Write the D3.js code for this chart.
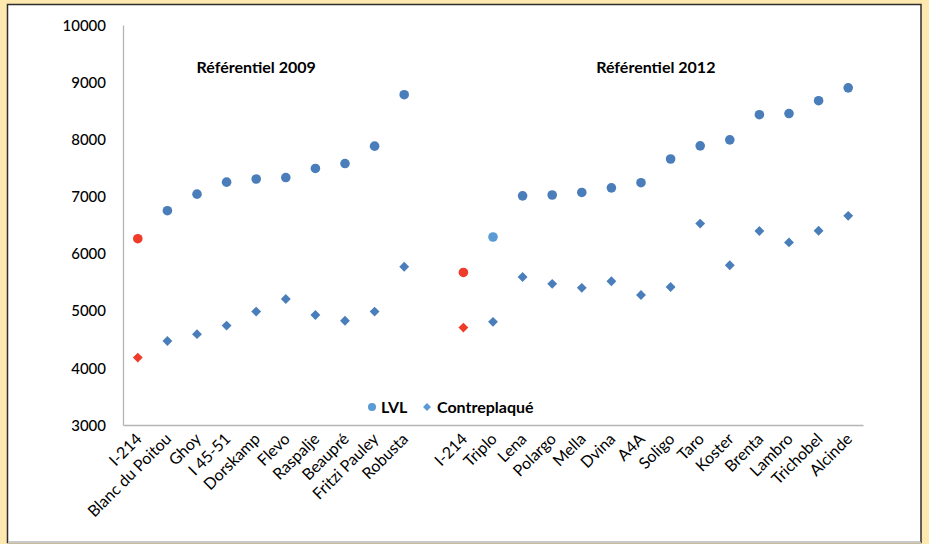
<!DOCTYPE html>
<html>
<head>
<meta charset="utf-8">
<script src="https://cdn.jsdelivr.net/npm/d3@7"></script>
<style>
  html, body { margin: 0; padding: 0; background: #fde8b0; }
  svg { display: block; }
  text { font-family: Lato, "Open Sans", sans-serif; fill: #000; }
</style>
</head>
<body>
<svg id="chart" width="929" height="544"></svg>
<script>
// Cultivars, in plotting order (a blank slot separates the two référentiels)
const cultivars2009 = ["I-214", "Blanc du Poitou", "Ghoy", "I 45-51", "Dorskamp", "Flevo",
  "Raspalje", "Beaupré", "Fritzi Pauley", "Robusta"];
const cultivars2012 = ["I-214", "Triplo", "Lena", "Polargo", "Mella", "Dvina", "A4A", "Soligo",
  "Taro", "Koster", "Brenta", "Lambro", "Trichobel", "Alcinde"];

// LVL and plywood (contreplaqué) values
const lvl2009 = [6260, 6750, 7040, 7250, 7305, 7330, 7490, 7575, 7880, 8780];
const contre2009 = [4180, 4470, 4590, 4740, 4985, 5205, 4925, 4825, 4985, 5770];
const lvl2012 = [5670, 6290, 7010, 7025, 7070, 7150, 7240, 7655, 7885, 7990, 8430, 8450, 8675, 8900];
const contre2012 = [4705, 4805, 5590, 5470, 5400, 5515, 5275, 5415, 6525, 5795, 6395, 6195, 6400, 6660];

const yTicks = [3000, 4000, 5000, 6000, 7000, 8000, 9000, 10000];
const groupTitles = ["Référentiel 2009", "Référentiel 2012"];
const legendLabels = ["LVL", "Contreplaqué"];

// Reference cultivar I-214 is highlighted; Triplo's LVL point uses a lighter tint
const COL_BLUE = "#4a7ebb", COL_LIGHT = "#5b9bd5", COL_RED = "#ee3b2a";

const slots = [
  ...cultivars2009.map((c, i) => ({ key: "a" + i, name: c })),
  { key: "gap", name: "" },
  ...cultivars2012.map((c, i) => ({ key: "b" + i, name: c }))
];

const svg = d3.select("#chart");

// white chart panel
svg.append("rect").attr("x", 7.5).attr("y", 4.5).attr("width", 913.5).attr("height", 538)
  .attr("fill", "#fff").attr("stroke", "#2e2e2e").attr("stroke-width", 1.5);
svg.append("line").attr("x1", 8).attr("x2", 921).attr("y1", 542.5).attr("y2", 542.5)
  .attr("stroke", "#c8c8c8").attr("stroke-width", 1.5);

const plotLeft = 123, plotRight = 863, plotTop = 25, plotBottom = 425;

const x = d3.scaleBand().domain(slots.map(s => s.key)).range([plotLeft, plotRight]);
const cx = k => x(k) + x.bandwidth() / 2;
const y = d3.scaleLinear().domain([3000, 10000]).range([plotBottom, plotTop]);

// y axis
const yAxis = d3.axisLeft(y).tickValues(yTicks).tickSize(0).tickPadding(17)
  .tickFormat(d3.format("d"));
const gy = svg.append("g").attr("transform", `translate(${plotLeft},0)`).call(yAxis);
gy.select(".domain").attr("stroke", "#b5b5b5").attr("stroke-width", 1.3);
gy.selectAll("text").attr("font-size", 15).attr("font-family", "Lato, sans-serif")
  .attr("font-weight", 500).attr("dy", "0.35em");

// x axis (baseline only; labels drawn rotated)
const xAxis = d3.axisBottom(x).tickSize(0).tickFormat("");
const gx = svg.append("g").attr("transform", `translate(0,${plotBottom})`).call(xAxis);
gx.select(".domain").attr("stroke", "#b5b5b5").attr("stroke-width", 1.3);

svg.append("g").selectAll("text").data(slots.filter(s => s.name))
  .join("text")
  .attr("transform", s => `translate(${cx(s.key) + 5},${plotBottom + 15}) rotate(-45)`)
  .attr("text-anchor", "end")
  .attr("font-size", 16)
  .text(s => s.name);

// group titles
const titleX = [cx("a4"), (cx("b6") + cx("b7")) / 2];
svg.append("g").selectAll("text").data(groupTitles).join("text")
  .attr("x", (d, i) => titleX[i]).attr("y", 73)
  .attr("text-anchor", "middle").attr("font-size", 16).attr("font-weight", 700)
  .text(d => d);

// points
const points = [];
cultivars2009.forEach((c, i) => {
  points.push({ key: "a" + i, v: lvl2009[i], s: "lvl", col: i === 0 ? COL_RED : COL_BLUE });
  points.push({ key: "a" + i, v: contre2009[i], s: "cp", col: i === 0 ? COL_RED : COL_BLUE });
});
cultivars2012.forEach((c, i) => {
  const lvlCol = i === 0 ? COL_RED : (c === "Triplo" ? COL_LIGHT : COL_BLUE);
  points.push({ key: "b" + i, v: lvl2012[i], s: "lvl", col: lvlCol });
  points.push({ key: "b" + i, v: contre2012[i], s: "cp", col: i === 0 ? COL_RED : COL_BLUE });
});

const circleSym = d3.symbol().type(d3.symbolCircle).size(Math.PI * 4.8 * 4.8);
// diamond: half-diagonal ≈ 0.626·√size
const diamondSym = d3.symbol().type(d3.symbolDiamond2).size(62);

svg.append("g").selectAll("path").data(points).join("path")
  .attr("transform", d => `translate(${cx(d.key)},${y(d.v)})`)
  .attr("d", d => d.s === "lvl" ? circleSym() : diamondSym())
  .attr("fill", d => d.col);

// legend
const lg = svg.append("g").attr("transform", "translate(372,407)");
lg.append("path").attr("d", d3.symbol().type(d3.symbolCircle).size(Math.PI * 4 * 4)())
  .attr("fill", COL_LIGHT);
lg.append("text").attr("x", 9).attr("y", 0).attr("dy", "0.35em").attr("font-size", 16)
  .attr("font-weight", 700).text(legendLabels[0]);
lg.append("path").attr("transform", "translate(55,0)")
  .attr("d", d3.symbol().type(d3.symbolDiamond2).size(40)())
  .attr("fill", COL_LIGHT);
lg.append("text").attr("x", 65).attr("y", 0).attr("dy", "0.35em").attr("font-size", 16)
  .attr("font-weight", 700).text(legendLabels[1]);
</script>
</body>
</html>
